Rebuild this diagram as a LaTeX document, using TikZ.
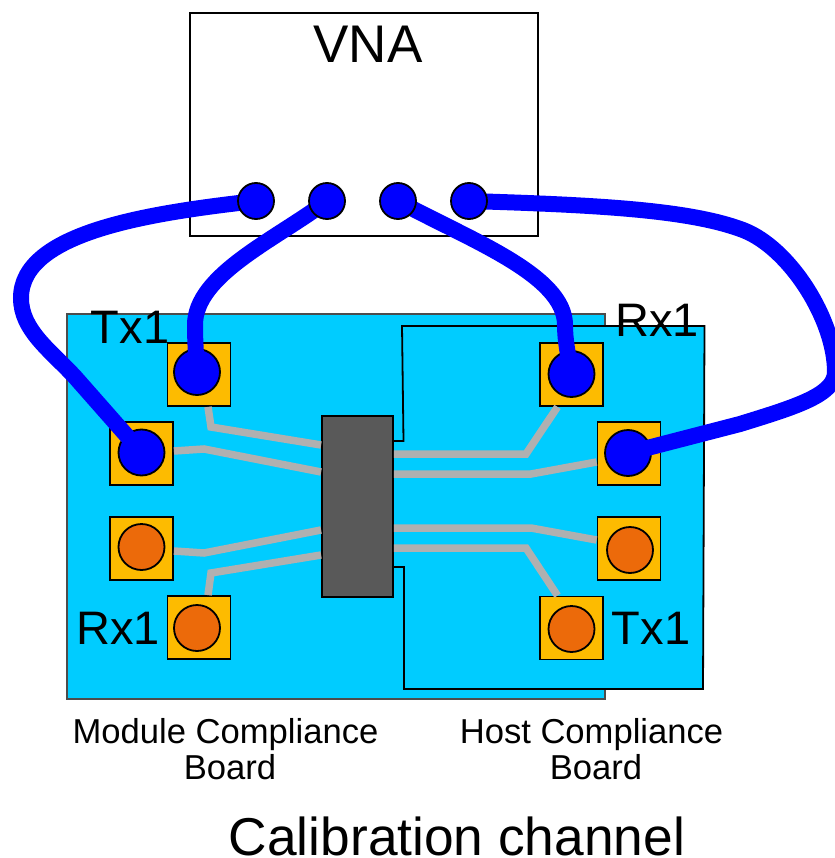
\documentclass[tikz,border=0pt]{standalone}
\usepackage{fontspec}
\setmainfont{Liberation Sans}
\definecolor{boardblue}{HTML}{00CCFF}
\definecolor{padyellow}{HTML}{FDBB00}
\definecolor{padorange}{HTML}{EC6A0A}
\definecolor{tracegray}{HTML}{B0B0B0}
\definecolor{chipgray}{HTML}{595959}
\tikzset{
	pad/.style = {draw = black, line width = 1.8pt, fill = padyellow, minimum size = 63pt, inner sep = 0pt},
	port/.style = {draw = black, line width = 1.8pt, circle, fill = blue, minimum size = 36pt, inner sep = 0pt},
	bluedot/.style = {draw = black, line width = 1.8pt, circle, fill = blue, minimum size = 46pt, inner sep = 0pt},
	orangedot/.style = {draw = black, line width = 1.8pt, circle, fill = padorange, minimum size = 46pt, inner sep = 0pt},
	trace/.style = {tracegray, line width = 7.5pt, line join = miter},
	cable/.style = {blue, line width = 16pt},
	biglabel/.style = {inner sep = 0pt, anchor = base, font = \fontsize{47}{47}\selectfont},
	boardlabel/.style = {inner sep = 0pt, align = center, font = \fontsize{34.6}{36}\selectfont}
}

\begin{document}
\begin{tikzpicture}[x = 1pt, y = -1pt]
	\useasboundingbox (0, 0) rectangle (834, 858);
	\draw[black, line width = 1.8pt, fill = white] (190, 13) rectangle (538, 236);
	\node[inner sep = 0pt, anchor = base, font = \fontsize{53}{53}\selectfont] (vnalabel) at (368, 63) {VNA};
	\draw[black!70, line width = 1.8pt, fill = boardblue] (67, 314) rectangle (605, 699);
	\draw[black, line width = 1.8pt, fill = boardblue] (393, 441) -- (403.5, 441) -- (402, 326) -- (704.5, 326) -- (703, 689) -- (404, 689) -- (404, 567) -- (393, 567);

	\node[pad] (padA) at (199, 374.5) {};
	\node[pad] (padB) at (141.5, 453.5) {};
	\node[pad] (padC) at (141.5, 548.5) {};
	\node[pad] (padD) at (199, 627.5) {};
	\node[pad] (padE) at (571.5, 374.5) {};
	\node[pad] (padF) at (629, 453.5) {};
	\node[pad] (padG) at (629, 548.5) {};
	\node[pad] (padH) at (571.5, 628) {};
	\node[draw = black, line width = 1.8pt, fill = chipgray, minimum width = 71pt, minimum height = 181pt, inner sep = 0pt] (chip) at (357.5, 506.5) {};

	\draw[trace] ([xshift = 9pt]padA.south) -- (211, 427) -- (chip.west |- 0, 445);
	\draw[trace] (padB.east) ++(0, -2.5) -- (204, 449) -- (chip.west |- 0, 472);
	\draw[trace] (padC.east) ++(0, 2.5) -- (204, 553) -- (chip.west |- 0, 530);
	\draw[trace] ([xshift = 9pt]padD.north) -- (211, 573) -- (chip.west |- 0, 555);
	\draw[trace] ([xshift = -14pt]padE.south) -- (526, 454) -- (chip.east |- 0, 454);
	\draw[trace] (padF.west) ++(0, 8.5) -- (531, 474) -- (chip.east |- 0, 474);
	\draw[trace] (padG.west) ++(0, -8.5) -- (531, 528) -- (chip.east |- 0, 528);
	\draw[trace] ([xshift = -14pt]padH.north) -- (526, 548) -- (chip.east |- 0, 548);

	\node[bluedot] (dotA) at (197, 372) {};
	\node[bluedot] (dotB) at (141.5, 452.5) {};
	\node[orangedot] (dotC) at (141.5, 547) {};
	\node[orangedot] (dotD) at (197, 628) {};
	\node[bluedot] (dotE) at (571.5, 374) {};
	\node[bluedot] (dotF) at (628, 453) {};
	\node[orangedot] (dotG) at (630, 550) {};
	\node[orangedot] (dotH) at (571.5, 629) {};

	\coordinate (endA) at (256, 201);
	\coordinate (endB) at (327, 201);
	\coordinate (endC) at (398, 201);
	\coordinate (endD) at (469, 201);
	\draw[cable] (endA) .. controls (150, 213) and (21, 232) .. (21, 298) .. controls (21, 330) and (50, 350) .. (75, 377) -- (dotB.center);
	\draw[cable] (endB) .. controls (275, 240) and (195, 275) .. (195, 325) .. controls (195, 340) and (196, 355) .. (dotA.center);
	\draw[cable] (endC) .. controls (470, 240) and (565, 275) .. (565, 325) .. controls (565, 340) and (568, 355) .. (dotE.center);
	\draw[cable] (endD) .. controls (600, 205) and (690, 210) .. (743, 230) .. controls (790, 248) and (835, 320) .. (835, 372) .. controls (835, 395) and (795, 407) .. (740, 424) -- (dotF.center);
	\node[port] (portA) at (endA) {};
	\node[port] (portB) at (endB) {};
	\node[port] (portC) at (endC) {};
	\node[port] (portD) at (endD) {};

	\node[biglabel] (txA) at (130, 343) {Tx1};
	\node[biglabel] (rxA) at (118, 644) {Rx1};
	\node[biglabel] (rxB) at (657, 336) {Rx1};
	\node[biglabel] (txB) at (651, 644) {Tx1};
	\node[boardlabel] (modlabel) at (225.5, 749) {Module Compliance\\\hspace{9pt}Board};
	\node[boardlabel] (hostlabel) at (591.5, 749) {Host Compliance\\\hspace{9pt}Board};
	\node[inner sep = 0pt, anchor = base, font = \fontsize{53.3}{53.3}\selectfont] (titlelabel) at (457, 855) {Calibration channel};
\end{tikzpicture}
\end{document}
